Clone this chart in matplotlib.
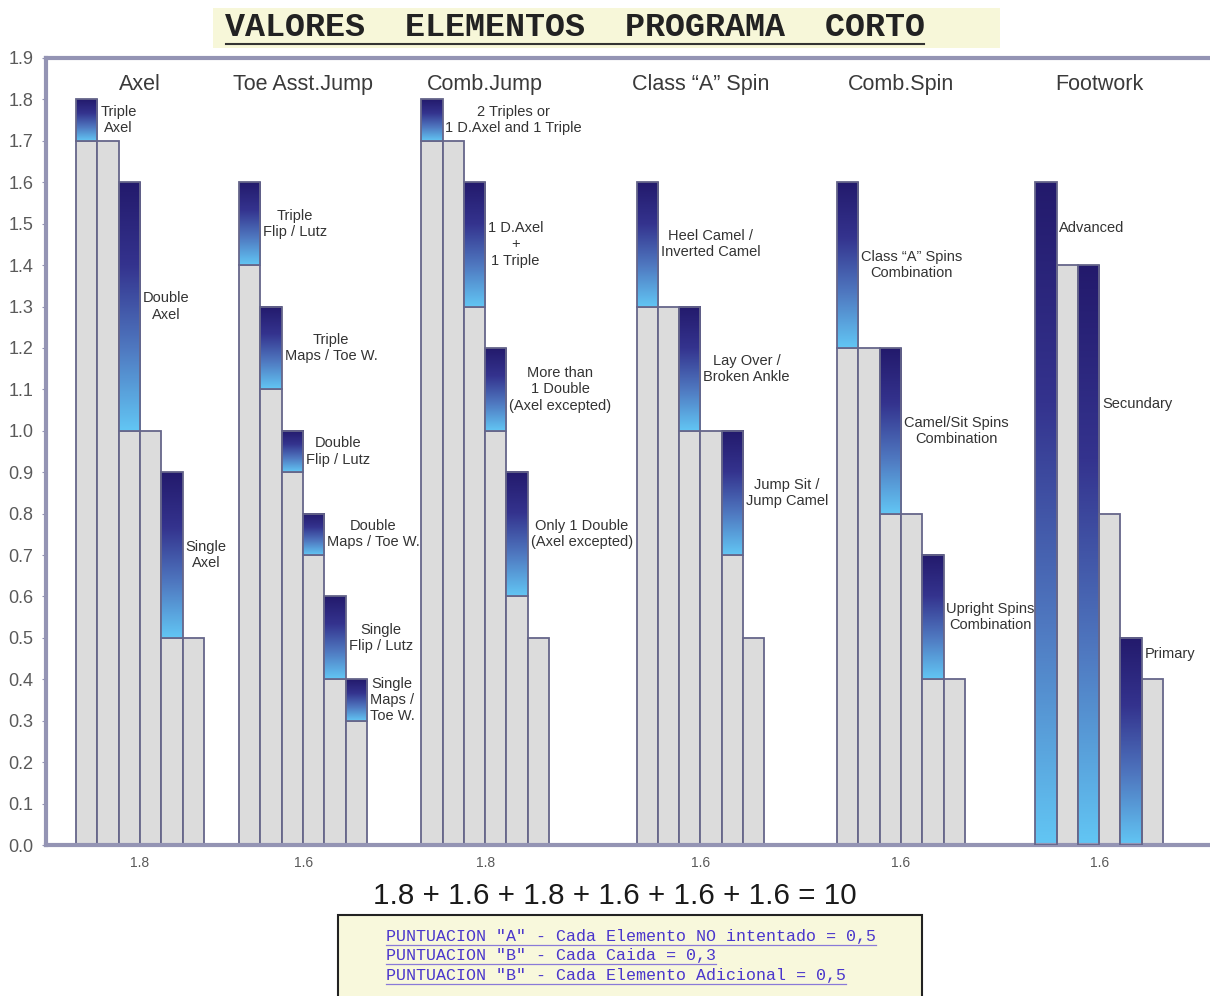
import matplotlib
matplotlib.use("Agg")
import matplotlib.pyplot as plt
import numpy as np
from matplotlib.colors import LinearSegmentedColormap
from matplotlib.patches import Rectangle

# datos
groups = ['Axel', 'Toe Asst.Jump', 'Comb.Jump', 'Class \u201cA\u201d Spin', 'Comb.Spin', 'Footwork']
group_values = ['1.8', '1.6', '1.8', '1.6', '1.6', '1.6']

# base (gris) y tope (degradado) de cada una de las 6 barras por grupo
bases = [
    [1.7, 1.7, 1.0, 1.0, 0.5, 0.5],
    [1.4, 1.1, 0.9, 0.7, 0.4, 0.3],
    [1.7, 1.7, 1.3, 1.0, 0.6, 0.5],
    [1.3, 1.3, 1.0, 1.0, 0.7, 0.5],
    [1.2, 1.2, 0.8, 0.8, 0.4, 0.4],
    [0.0, 1.4, 0.0, 0.8, 0.0, 0.4],
]
tops = [
    [1.8, 1.7, 1.6, 1.0, 0.9, 0.5],
    [1.6, 1.3, 1.0, 0.8, 0.6, 0.4],
    [1.8, 1.7, 1.6, 1.2, 0.9, 0.5],
    [1.6, 1.3, 1.3, 1.0, 1.0, 0.5],
    [1.6, 1.2, 1.2, 0.8, 0.7, 0.4],
    [1.6, 1.4, 1.4, 0.8, 0.5, 0.4],
]
labels = [
    ['Triple\nAxel', 'Double\nAxel', 'Single\nAxel'],
    ['Triple\nFlip / Lutz', 'Triple\nMaps / Toe W.', 'Double\nFlip / Lutz',
     'Double\nMaps / Toe W.', 'Single\nFlip / Lutz', 'Single\nMaps /\nToe W.'],
    ['2 Triples or\n1 D.Axel and 1 Triple', '1 D.Axel\n+\n1 Triple',
     'More than\n1 Double\n(Axel excepted)', 'Only 1 Double\n(Axel excepted)'],
    ['Heel Camel /\nInverted Camel', 'Lay Over /\nBroken Ankle', 'Jump Sit /\nJump Camel'],
    ['Class \u201cA\u201d Spins\nCombination', 'Camel/Sit Spins\nCombination', 'Upright Spins\nCombination'],
    ['Advanced', 'Secundary', 'Primary'],
]
# altura de las etiquetas de Footwork (las demas van al centro del degradado)
footwork_label_y = [1.49, 1.065, 0.46]

sum_text = '1.8 + 1.6 + 1.8 + 1.6 + 1.6 + 1.6 = 10'
notes = [
    'PUNTUACION "A" - Cada Elemento NO intentado = 0,5',
    'PUNTUACION "B" - Cada Caida = 0,3',
    'PUNTUACION "B" - Cada Elemento Adicional = 0,5',
]

# layout
group_start = [1.41, 9.06, 17.6, 27.7, 37.1, 46.4]
gray = '#dcdcdc'
edge = '#66668a'
spine_c = '#9494b4'
cmap = LinearSegmentedColormap.from_list('azul', ['#62c6f4', '#4f78c0', '#34338e', '#231a6c'])

plt.rcParams['font.family'] = ['Liberation Sans', 'DejaVu Sans']

fig = plt.figure(figsize=(12.1, 9.96), dpi=100)
ax = fig.add_axes([0.038, 0.1516, 0.962, 0.7902])

grad = np.linspace(0, 1, 256).reshape(-1, 1)
for g in range(len(groups)):
    k = 0
    for i in range(6):
        x0 = group_start[g] + i
        b, t = bases[g][i], tops[g][i]
        if b > 0:
            ax.bar(x0, b, width=1, align='edge', color=gray, edgecolor=edge, linewidth=1.3, zorder=2)
        if t > b:
            ax.imshow(grad, extent=[x0, x0 + 1, b, t], origin='lower', aspect='auto',
                      cmap=cmap, zorder=2)
            ax.bar(x0, t - b, bottom=b, width=1, align='edge', facecolor='none',
                   edgecolor=edge, linewidth=1.3, zorder=3)
            if g == 5:
                ly = footwork_label_y[k]
            else:
                ly = (b + t) / 2
            ax.annotate(labels[g][k], xy=(x0 + 1, ly), xytext=(2, 0), textcoords='offset points',
                        ha='left', va='center', multialignment='center', fontsize=10.5,
                        color='#333333', zorder=4)
            k += 1
    ax.text(group_start[g] + 3, 1.835, groups[g], ha='center', va='center',
            fontsize=15.5, color='#3a3a3a')

ax.set_xlim(0, 54.6)
ax.set_ylim(0, 1.9)
ax.set_yticks(np.arange(0, 1.91, 0.1))
ax.set_yticklabels([f'{v:.1f}' for v in np.arange(0, 1.91, 0.1)], fontsize=13, color='#5a5a5a')
ax.set_xticks([s + 3 for s in group_start])
ax.set_xticklabels(group_values, fontsize=10, color='#5a5a5a')
ax.tick_params(axis='x', length=0, pad=8)
ax.tick_params(axis='y', length=3, color=spine_c, pad=6)
for s in ['left', 'bottom', 'top']:
    ax.spines[s].set_color(spine_c)
    ax.spines[s].set_linewidth(3)
ax.spines['right'].set_visible(False)

# titulo
fig.patches.append(Rectangle((213 / 1210, 1 - 48 / 996), 787 / 1210, 40 / 996,
                             transform=fig.transFigure, facecolor='#f7f7d9', edgecolor='none'))
fig.text(575 / 1210, 1 - 28 / 996, 'VALORES  ELEMENTOS  PROGRAMA  CORTO', ha='center', va='center',
         fontsize=24, fontweight='bold', family='Liberation Mono', color='#222222')
fig.add_artist(plt.Line2D([226 / 1210, 924 / 1210], [1 - 44 / 996, 1 - 44 / 996],
                          transform=fig.transFigure, color='#333333', linewidth=1.5))

fig.text(615 / 1210, 1 - 896 / 996, sum_text, ha='center', va='center', fontsize=21.3, color='#1a1a1a')

# recuadro de puntuacion
fig.patches.append(Rectangle((338 / 1210, -0.01), 584 / 1210, (996 - 915) / 996 + 0.01,
                             transform=fig.transFigure, facecolor='#f8f8dc', edgecolor='#222222',
                             linewidth=1.5))
fig.canvas.draw()
rend = fig.canvas.get_renderer()
for j, line in enumerate(notes):
    yy = 1 - (936 + 19.5 * j) / 996
    t = fig.text(386 / 1210, yy, line, ha='left', va='center', fontsize=12,
                 family='Liberation Mono', color='#4a36cc')
    bb = t.get_window_extent(rend)
    fig.add_artist(plt.Line2D([386 / 1210, bb.x1 / 1210], [yy - 8.5 / 996, yy - 8.5 / 996],
                              transform=fig.transFigure, color='#8a7ad8', linewidth=0.9))

fig.savefig('out.png', dpi=100)
